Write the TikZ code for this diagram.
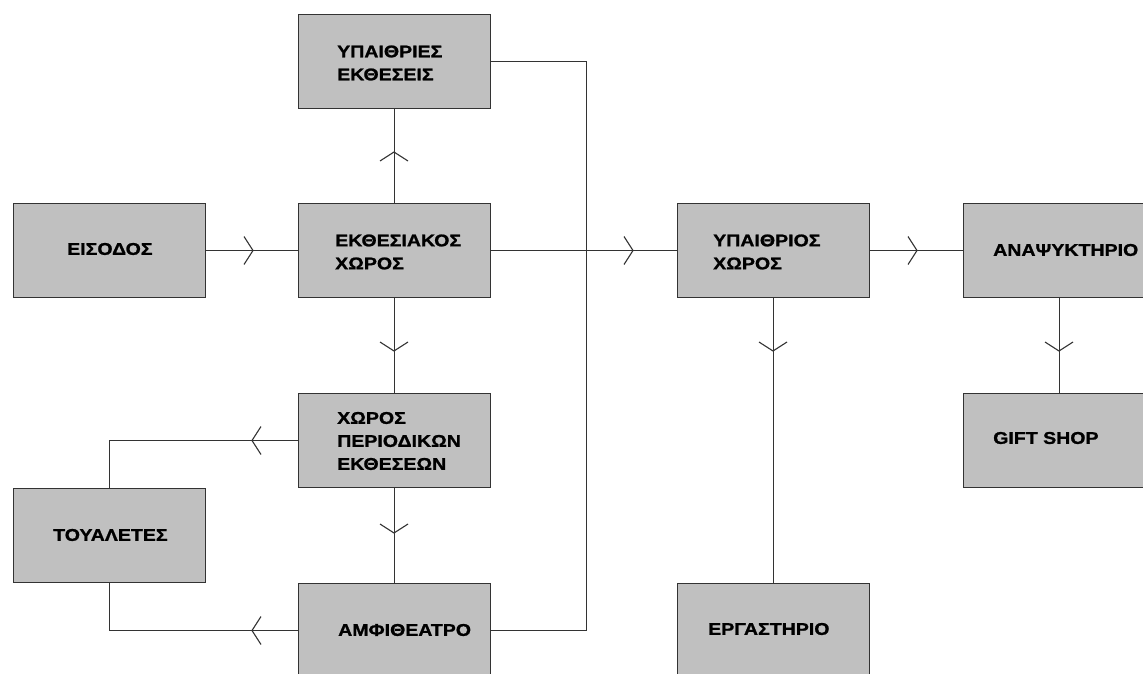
\documentclass[tikz,border=0pt]{standalone}
\usepackage{fontspec}
\setmainfont{Liberation Sans}
\newfontfamily\boxfont[FakeStretch=1.15,FakeBold=1.2]{Liberation Sans Bold}
\usetikzlibrary{calc}
\definecolor{boxgray}{HTML}{C0C0C0}
\definecolor{linegray}{HTML}{333333}
\begin{document}
\begin{tikzpicture}[x=1pt,y=-1pt,
  box/.style={draw=linegray, line width=1.4pt, fill=boxgray, minimum width=192pt, minimum height=94pt, inner sep=0pt, anchor=north west},
  lbl/.style={anchor=west, align=left, inner sep=0pt, font=\boxfont\fontsize{17}{23}\selectfont},
  conn/.style={draw=linegray, line width=1.2pt},
  chev/.pic={\draw[linegray, line width=1.1pt] (-9,-14) .. controls (-4,-7.8) .. (0,0) .. controls (-4,7.8) .. (-9,14);}
]
\useasboundingbox (0,0) rectangle (1143,674);
\clip (0,0) rectangle (1143,674);
\fill[white] (0,0) rectangle (1143,674);
% boxes
\node[box] (yex) at (298,14) {};
\node[box] (eis) at (13,203) {};
\node[box] (ekth) at (298,203) {};
\node[box] (ypx) at (677,203) {};
\node[box] (anap) at (963,203) {};
\node[box] (xpe) at (298,393) {};
\node[box] (gift) at (963,393) {};
\node[box] (toua) at (13,488) {};
\node[box] (amf) at (298,583) {};
\node[box] (erg) at (677,583) {};
% labels
\node[lbl] (t1) at (337,63) {ΥΠΑΙΘΡΙΕΣ\\ΕΚΘΕΣΕΙΣ};
\node[lbl] (t2) at (67,249) {ΕΙΣΟΔΟΣ};
\node[lbl] (t3) at (335,252) {ΕΚΘΕΣΙΑΚΟΣ\\ΧΩΡΟΣ};
\node[lbl] (t4) at (713,252) {ΥΠΑΙΘΡΙΟΣ\\ΧΩΡΟΣ};
\node[lbl] (t5) at (993,250) {ΑΝΑΨΥΚΤΗΡΙΟ};
\node[lbl] (t6) at (337,441) {ΧΩΡΟΣ\\ΠΕΡΙΟΔΙΚΩΝ\\ΕΚΘΕΣΕΩΝ};
\node[lbl] (t7) at (993,438) {GIFT SHOP};
\node[lbl] (t8) at (53,535) {ΤΟΥΑΛΕΤΕΣ};
\node[lbl] (t9) at (338,630) {ΑΜΦΙΘΕΑΤΡΟ};
\node[lbl] (t10) at (708,629) {ΕΡΓΑΣΤΗΡΙΟ};
% connectors
\draw[conn] (eis.east) -- (ekth.west);
\draw[conn] (ekth.north) -- (yex.south);
\draw[conn] (ekth.south) -- (xpe.north);
\draw[conn] (xpe.south) -- (amf.north);
\draw[conn] (ekth.east) -- (ypx.west);
\draw[conn] (yex.east) -- ++(95,0) coordinate (c1) |- (amf.east);
\draw[conn] (ypx.east) -- (anap.west);
\draw[conn] (ypx.south) -- (erg.north);
\draw[conn] (anap.south) -- (gift.north);
\draw[conn] (xpe.west) -| (toua.north);
\draw[conn] (amf.west) -| (toua.south);
% chevrons
\pic at (253,250.5) {chev};
\pic at (633,250.5) {chev};
\pic at (917,250.5) {chev};
\pic[rotate=90] at (394,152) {chev};
\pic[rotate=-90] at (394,351) {chev};
\pic[rotate=-90] at (773,351) {chev};
\pic[rotate=-90] at (1059,351) {chev};
\pic[rotate=-90] at (394,533) {chev};
\pic[rotate=180] at (252,440.5) {chev};
\pic[rotate=180] at (252,630.5) {chev};
\end{tikzpicture}
\end{document}
